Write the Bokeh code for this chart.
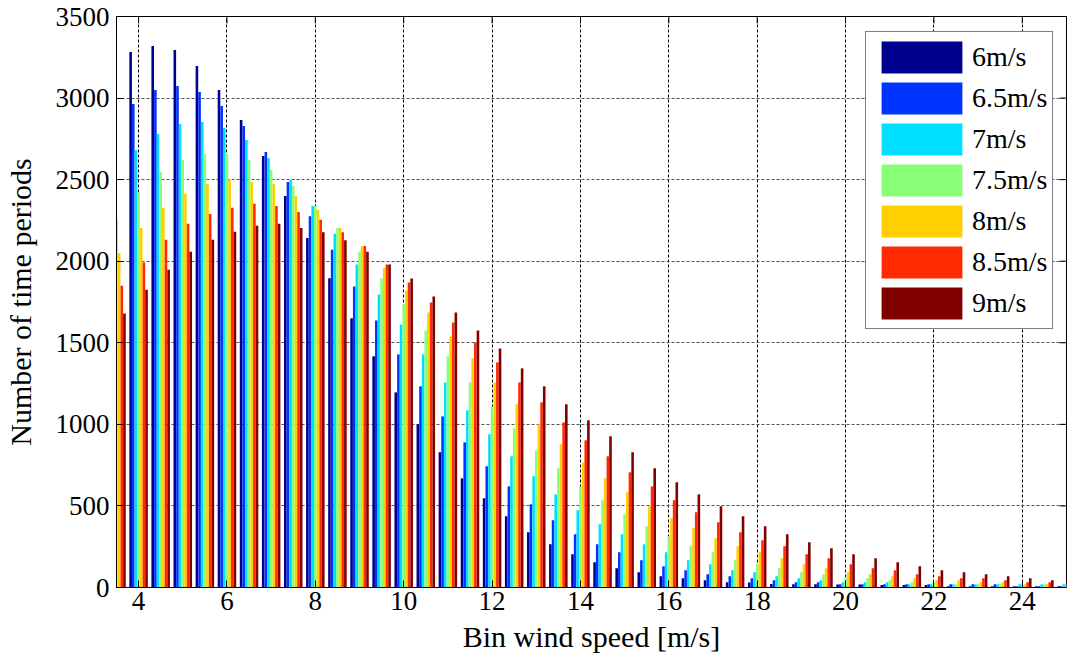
import math

from bokeh.plotting import figure
from bokeh.models import (Range1d, FixedTicker, Legend, LegendItem,
                          ColumnDataSource)
from bokeh.embed import file_html
from bokeh.resources import INLINE

# Bin wind speeds [m/s]
bins = [3.5, 4.0, 4.5, 5.0, 5.5, 6.0, 6.5, 7.0, 7.5, 8.0, 8.5, 9.0, 9.5, 10.0,
        10.5, 11.0, 11.5, 12.0, 12.5, 13.0, 13.5, 14.0, 14.5, 15.0, 15.5, 16.0,
        16.5, 17.0, 17.5, 18.0, 18.5, 19.0, 19.5, 20.0, 20.5, 21.0, 21.5, 22.0,
        22.5, 23.0, 23.5, 24.0, 24.5, 25.0]

# Number of time periods per bin, one list per mean wind speed
v6_0 = [3150, 3282, 3319, 3295, 3197, 3050, 2866, 2645, 2400, 2143, 1896, 1650,
        1417, 1196, 1000, 829, 669, 547, 437, 339, 265, 204, 155, 118, 94, 69,
        57, 45, 32, 30, 22, 20, 20, 18, 18, 16, 16, 15, 8, 8, 8, 8, 8, 8]
v6_5 = [2870, 2964, 3050, 3074, 3037, 2952, 2829, 2670, 2486, 2276, 2070, 1845,
        1637, 1429, 1233, 1049, 890, 743, 620, 510, 412, 326, 265, 216, 167, 130,
        106, 81, 69, 57, 45, 32, 32, 20, 20, 20, 20, 20, 20, 20, 20, 8, 8, 8]
v7_0 = [2560, 2682, 2780, 2841, 2854, 2817, 2743, 2633, 2498, 2339, 2168, 1980,
        1796, 1612, 1429, 1257, 1086, 939, 804, 682, 571, 473, 388, 326, 265, 216,
        167, 143, 106, 94, 69, 57, 45, 32, 32, 32, 20, 20, 20, 20, 20, 20, 20, 20]
v7_5 = [2260, 2421, 2547, 2621, 2658, 2658, 2621, 2560, 2462, 2339, 2204, 2058,
        1894, 1735, 1576, 1417, 1257, 1110, 976, 841, 731, 620, 535, 449, 375, 314,
        253, 216, 167, 143, 118, 94, 81, 57, 57, 45, 32, 32, 20, 20, 20, 20, 20, 20]
v8_0 = [2050, 2204, 2327, 2413, 2474, 2498, 2486, 2474, 2400, 2315, 2204, 2094,
        1960, 1821, 1686, 1539, 1404, 1257, 1123, 1000, 878, 767, 669, 584, 498, 424,
        363, 302, 253, 216, 179, 143, 118, 94, 81, 69, 57, 45, 45, 32, 32, 20, 20, 20]
v8_5 = [1850, 1992, 2131, 2229, 2290, 2327, 2352, 2339, 2302, 2254, 2178, 2094,
        1980, 1870, 1747, 1625, 1502, 1380, 1257, 1135, 1012, 902, 804, 706, 620, 535,
        461, 400, 339, 290, 253, 204, 179, 143, 118, 106, 81, 69, 57, 57, 45, 32, 32, 30]
v9_0 = [1680, 1825, 1947, 2058, 2131, 2180, 2217, 2229, 2204, 2178, 2129, 2058,
        1980, 1894, 1784, 1686, 1576, 1465, 1343, 1233, 1123, 1025, 927, 829, 731, 645,
        571, 498, 437, 375, 326, 277, 241, 204, 179, 155, 130, 106, 94, 81, 69, 57, 45, 40]

series = [v6_0, v6_5, v7_0, v7_5, v8_0, v8_5, v9_0]
labels = ["6m/s", "6.5m/s", "7m/s", "7.5m/s", "8m/s", "8.5m/s", "9m/s"]
colors = ["#00008F", "#0033FF", "#00DFFF", "#88FF77", "#FFCF00", "#FF2A00", "#800000"]

x_ticks = [4, 6, 8, 10, 12, 14, 16, 18, 20, 22, 24]
y_ticks = [0, 500, 1000, 1500, 2000, 2500, 3000, 3500]
x_min, x_max = 3.5, 25
y_min, y_max = 0, 3500

FONT = "Liberation Serif"

p = figure(width=1067, height=661,
           x_range=Range1d(x_min, x_max), y_range=Range1d(y_min, y_max),
           output_backend="svg", toolbar_location=None,
           min_border_left=115, min_border_right=1,
           min_border_top=16, min_border_bottom=74)

p.background_fill_color = "white"
p.border_fill_color = "white"
p.outline_line_color = "black"
p.outline_line_width = 1

# grid
p.xgrid.ticker = FixedTicker(ticks=x_ticks)
p.ygrid.ticker = FixedTicker(ticks=y_ticks)
p.xgrid.grid_line_color = "black"
p.xgrid.grid_line_dash = "3 2"
p.xgrid.grid_line_width = 1
p.ygrid.grid_line_color = "#555555"
p.ygrid.grid_line_dash = "3 2"
p.ygrid.grid_line_width = 1

# grouped bars: 7 series side by side inside each wind-speed bin
step = 0.06
renderers = []
for k, (vals, col) in enumerate(zip(series, colors)):
    src = ColumnDataSource(dict(x=[b + (k - 3) * step for b in bins], top=vals))
    r = p.vbar(x="x", top="top", bottom=0, width=step * 0.98, source=src,
               fill_color=col, line_color=None)
    renderers.append(r)

# axes
for ax in (p.xaxis[0], p.yaxis[0]):
    ax.major_tick_in = 7
    ax.major_tick_out = 0
    ax.minor_tick_line_color = None
    ax.axis_line_color = "black"
    ax.major_tick_line_color = "black"
    ax.major_label_text_font = FONT
    ax.major_label_text_font_size = "27px"
    ax.major_label_text_color = "black"
    ax.axis_label_text_font = FONT
    ax.axis_label_text_font_size = "30px"
    ax.axis_label_text_font_style = "normal"
    ax.axis_label_text_color = "black"

p.xaxis.ticker = FixedTicker(ticks=x_ticks)
p.yaxis.ticker = FixedTicker(ticks=y_ticks)
p.xaxis.axis_label = "Bin wind speed [m/s]"
p.yaxis.axis_label = "Number of time periods"
p.xaxis.major_label_standoff = 4
p.xaxis.axis_label_standoff = 7
p.yaxis.major_label_standoff = 7
p.yaxis.axis_label_standoff = 16

# inward tick marks on the right and top edges of the box
p.scatter(x=[x_max] * len(y_ticks), y=y_ticks, marker="dash", size=14,
          line_color="black", line_width=1)
p.scatter(x=x_ticks, y=[y_max] * len(x_ticks), marker="dash", size=14,
          angle=math.pi / 2, line_color="black", line_width=1)

legend = Legend(items=[LegendItem(label=l, renderers=[r]) for l, r in zip(labels, renderers)],
                location=(749, 258), orientation="vertical",
                glyph_width=101, glyph_height=40, label_height=40,
                spacing=1, padding=5, margin=0, label_standoff=0,
                label_text_font=FONT, label_text_font_size="28px",
                label_text_color="black",
                border_line_color="black", border_line_width=1,
                background_fill_color="white", background_fill_alpha=1)
p.add_layout(legend, "center")

open("out.html", "w").write(file_html(p, INLINE))
